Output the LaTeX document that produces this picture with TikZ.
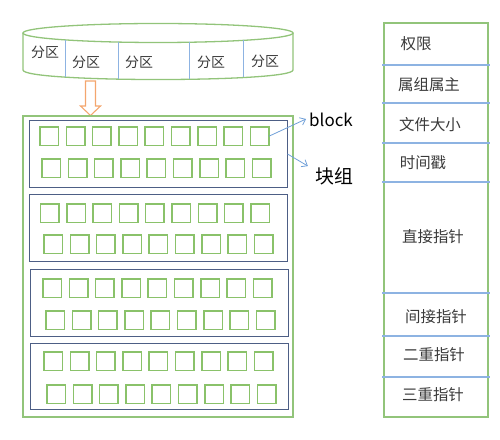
\documentclass[tikz,border=0pt]{standalone}
\usepackage{fontspec}
\setmainfont{Noto Sans CJK SC}
\usetikzlibrary{arrows.meta}
\definecolor{lgreen}{HTML}{92C47A}
\definecolor{sqgreen}{HTML}{8AC26A}
\definecolor{lblue}{HTML}{8DB3E2}
\definecolor{mblue}{HTML}{6F9FD8}
\definecolor{slate}{HTML}{4D5E85}
\definecolor{orng}{HTML}{F4A66E}
\definecolor{txt}{HTML}{3A3A3A}
\begin{document}
\begin{tikzpicture}[x=1bp,y=-1bp,
  cyl/.style={draw=lgreen, line width=1.3pt},
  divline/.style={draw=lblue, line width=1pt},
  outerbox/.style={draw=lgreen, line width=1.2pt},
  grp/.style={draw=slate, line width=1pt, inner sep=0pt, outer sep=0pt, anchor=north west, minimum width=258bp},
  sq/.style={draw=sqgreen, line width=1.5pt, inner sep=0pt, outer sep=0pt, minimum size=18.5bp, anchor=north west},
  ptext/.style={font=\fontsize{14}{14}\selectfont, text=txt, inner sep=1pt},
  ttext/.style={font=\fontsize{15.5}{16}\selectfont, text=txt, inner sep=1pt},
  lbl/.style={text=black, inner sep=2pt},
  tabline/.style={draw=lblue, line width=1.1pt},
  pointer/.style={draw=mblue, line width=0.8pt, -{Straight Barb[length=5pt,width=8pt]}}
]
\useasboundingbox (0,0) rectangle (500,440);

% cylinder (partition disk)
\draw[cyl, fill=white] (23,33) -- (23,70) .. controls (23,82.7) and (293,82.7) .. (293,70) -- (293,33);
\draw[cyl] (158,33) ellipse [x radius=135, y radius=9.5];
\foreach \x/\a/\b in {65/40/77, 118/42/79, 189/42/79, 243/40.5/77.4}
  \draw[divline] (\x,\a) -- (\x,\b);
\node[ptext] (p1) at (45,52) {分区};
\node[ptext] (p2) at (86,62) {分区};
\node[ptext] (p3) at (139,62) {分区};
\node[ptext] (p4) at (211,62) {分区};
\node[ptext] (p5) at (265,61) {分区};

% hollow down arrow
\draw[draw=orng, fill=white, line width=1.1pt, line join=miter]
  (85.5,81) -- (95.5,81) -- (95.5,106) -- (100.5,106) -- (90.5,115.5) -- (80.5,106) -- (85.5,106) -- cycle;

% outer box
\draw[outerbox] (23,116) rectangle (293,417);

% block groups
\node[grp, minimum height=66bp] (g1) at (29.5,121) {};
\node[grp, minimum height=67bp] (g2) at (29.5,194) {};
\node[grp, minimum height=67bp] (g3) at (30,269) {};
\node[grp, minimum height=66bp] (g4) at (30,343) {};

% small squares: group / row / start x / top y
\foreach \g/\r/\sx/\ty in {1/a/40/127, 1/b/42/159, 2/a/40.5/204, 2/b/44/235,
                            3/a/43/279, 3/b/46/311, 4/a/44/352, 4/b/47/385}{
  \foreach \i in {1,...,9}{
    \node[sq] (s\g\r\i) at ({\sx+(\i-1)*26.3},\ty) {};
  }
}

% labels and pointers
\node[lbl, font=\fontsize{17}{17}\selectfont] (blk) at (331,120) {block};
\node[lbl, font=\fontsize{19}{19}\selectfont] (kz) at (334,176) {块组};
\draw[pointer] (s1a9.east) -- ([xshift=-1pt, yshift=1pt]blk.west);
\draw[pointer] (g1.east) -- ([xshift=-5pt, yshift=-1pt]kz.north west);

% inode table
\draw[outerbox] (384,23) rectangle (488,417);
\foreach \y in {65,103,143,182,293,336,377}
  \draw[tabline] (382,\y) -- (490,\y);
\node[ttext] (t1) at (416,44) {权限};
\node[ttext] (t2) at (429,85) {属组属主};
\node[ttext] (t3) at (430,125) {文件大小};
\node[ttext] (t4) at (423,163) {时间戳};
\node[ttext] (t5) at (433,237) {直接指针};
\node[ttext] (t6) at (436,317) {间接指针};
\node[ttext] (t7) at (434,355) {二重指针};
\node[ttext] (t8) at (433,395) {三重指针};
\end{tikzpicture}
\end{document}
